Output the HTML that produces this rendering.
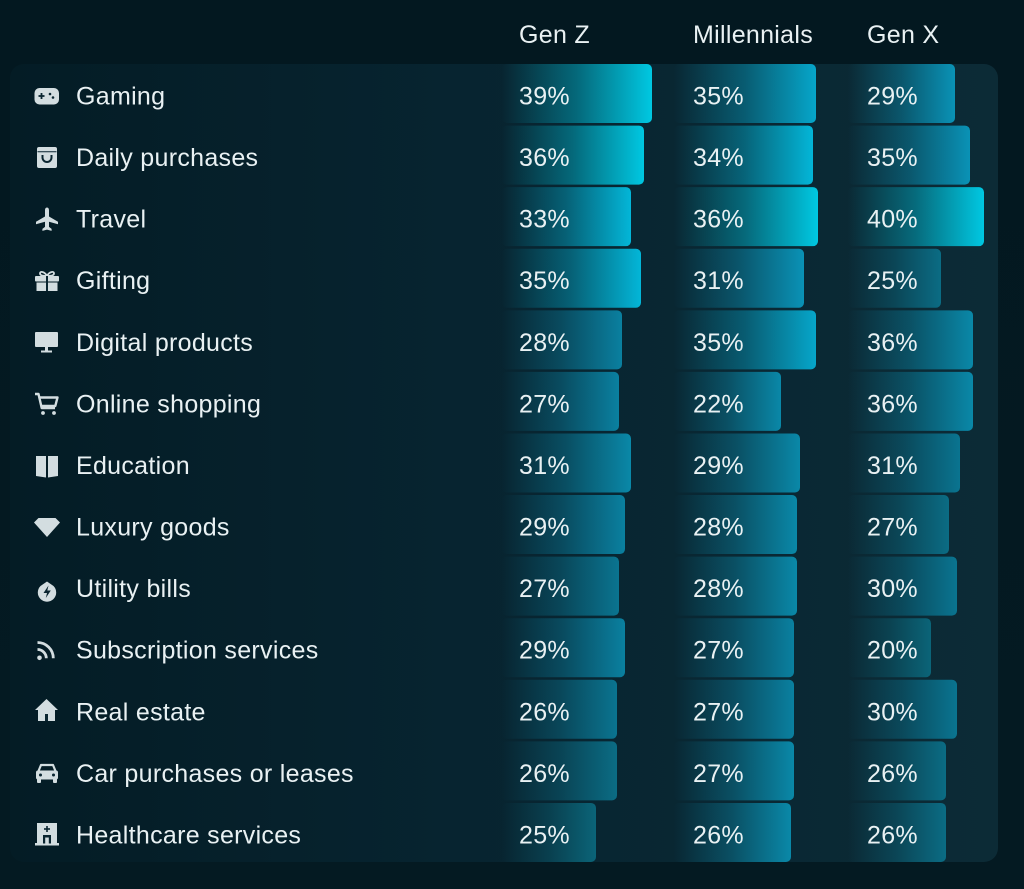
<!DOCTYPE html>
<html><head><meta charset="utf-8"><style>
html,body{margin:0;padding:0;background:#041a22;width:1024px;height:889px;overflow:hidden}
svg{display:block}
text{font-family:"Liberation Sans",sans-serif;font-size:25px;fill:#e9f1f3;letter-spacing:0.3px}
</style></head><body>
<svg width="1024" height="889" viewBox="0 0 1024 889" xmlns="http://www.w3.org/2000/svg">
<defs>
<linearGradient id="bg" x1="0" y1="0" x2="0" y2="1"><stop offset="0" stop-color="#031820"/><stop offset="1" stop-color="#041a22"/></linearGradient>
<linearGradient id="pn" x1="0" y1="0" x2="1" y2="0"><stop offset="0" stop-color="#041c25"/><stop offset="0.45" stop-color="#072430"/><stop offset="1" stop-color="#0c2b36"/></linearGradient>
<linearGradient id="c1" x1="0" x2="1" y1="0" y2="0"><stop offset="0" stop-color="#00c6e0" stop-opacity="0"/><stop offset="0.5" stop-color="#00c6e0" stop-opacity="0.42"/><stop offset="1" stop-color="#00c8e2"/></linearGradient>
<linearGradient id="c2" x1="0" x2="1" y1="0" y2="0"><stop offset="0" stop-color="#03b4d6" stop-opacity="0"/><stop offset="0.5" stop-color="#03b4d6" stop-opacity="0.42"/><stop offset="1" stop-color="#03b6d8"/></linearGradient>
<linearGradient id="c3" x1="0" x2="1" y1="0" y2="0"><stop offset="0" stop-color="#06a4c8" stop-opacity="0"/><stop offset="0.5" stop-color="#06a4c8" stop-opacity="0.42"/><stop offset="1" stop-color="#06a6ca"/></linearGradient>
<linearGradient id="c4" x1="0" x2="1" y1="0" y2="0"><stop offset="0" stop-color="#0a94b8" stop-opacity="0"/><stop offset="0.5" stop-color="#0a94b8" stop-opacity="0.42"/><stop offset="1" stop-color="#0a92b6"/></linearGradient>
<linearGradient id="c5" x1="0" x2="1" y1="0" y2="0"><stop offset="0" stop-color="#0a88a8" stop-opacity="0"/><stop offset="0.5" stop-color="#0a88a8" stop-opacity="0.42"/><stop offset="1" stop-color="#0a88a8"/></linearGradient>
<linearGradient id="c6" x1="0" x2="1" y1="0" y2="0"><stop offset="0" stop-color="#0a80a0" stop-opacity="0"/><stop offset="0.5" stop-color="#0a80a0" stop-opacity="0.42"/><stop offset="1" stop-color="#0a80a0"/></linearGradient>
<linearGradient id="c7" x1="0" x2="1" y1="0" y2="0"><stop offset="0" stop-color="#0a7490" stop-opacity="0"/><stop offset="0.5" stop-color="#0a7490" stop-opacity="0.42"/><stop offset="1" stop-color="#0a7490"/></linearGradient>
<linearGradient id="c8" x1="0" x2="1" y1="0" y2="0"><stop offset="0" stop-color="#0b6c84" stop-opacity="0"/><stop offset="0.5" stop-color="#0b6c84" stop-opacity="0.42"/><stop offset="1" stop-color="#0b6c84"/></linearGradient>
<linearGradient id="c9" x1="0" x2="1" y1="0" y2="0"><stop offset="0" stop-color="#0b6478" stop-opacity="0"/><stop offset="0.5" stop-color="#0b6478" stop-opacity="0.42"/><stop offset="1" stop-color="#0b6478"/></linearGradient>
</defs>
<rect width="1024" height="889" fill="url(#bg)"/>
<rect x="10" y="64" width="988" height="798" rx="14" fill="url(#pn)"/>

<!-- headers -->
<text x="519" y="43">Gen Z</text>
<text x="693" y="43">Millennials</text>
<text x="867" y="43">Gen X</text>

<!-- Gen Z bars -->
<g>
<rect x="502" y="64" width="150" height="59" rx="5" fill="url(#c1)"/>
<rect x="502" y="125.58" width="142" height="59" rx="5" fill="url(#c1)"/>
<rect x="502" y="187.16" width="129" height="59" rx="5" fill="url(#c2)"/>
<rect x="502" y="248.74" width="139" height="59" rx="5" fill="url(#c2)"/>
<rect x="502" y="310.32" width="120" height="59" rx="5" fill="url(#c6)"/>
<rect x="502" y="371.9" width="117" height="59" rx="5" fill="url(#c6)"/>
<rect x="502" y="433.48" width="129" height="59" rx="5" fill="url(#c5)"/>
<rect x="502" y="495.06" width="123" height="59" rx="5" fill="url(#c6)"/>
<rect x="502" y="556.64" width="117" height="59" rx="5" fill="url(#c7)"/>
<rect x="502" y="618.22" width="123" height="59" rx="5" fill="url(#c6)"/>
<rect x="502" y="679.8" width="115" height="59" rx="5" fill="url(#c7)"/>
<rect x="502" y="741.38" width="115" height="59" rx="5" fill="url(#c8)"/>
<rect x="502" y="802.96" width="94" height="59" rx="5" fill="url(#c9)"/>
</g>
<!-- Millennials bars -->
<g>
<rect x="674" y="64" width="142" height="59" rx="5" fill="url(#c3)"/>
<rect x="674" y="125.58" width="139" height="59" rx="5" fill="url(#c2)"/>
<rect x="674" y="187.16" width="144" height="59" rx="5" fill="url(#c1)"/>
<rect x="674" y="248.74" width="130" height="59" rx="5" fill="url(#c4)"/>
<rect x="674" y="310.32" width="142" height="59" rx="5" fill="url(#c3)"/>
<rect x="674" y="371.9" width="107" height="59" rx="5" fill="url(#c5)"/>
<rect x="674" y="433.48" width="126" height="59" rx="5" fill="url(#c5)"/>
<rect x="674" y="495.06" width="123" height="59" rx="5" fill="url(#c5)"/>
<rect x="674" y="556.64" width="123" height="59" rx="5" fill="url(#c5)"/>
<rect x="674" y="618.22" width="120" height="59" rx="5" fill="url(#c6)"/>
<rect x="674" y="679.8" width="120" height="59" rx="5" fill="url(#c6)"/>
<rect x="674" y="741.38" width="120" height="59" rx="5" fill="url(#c5)"/>
<rect x="674" y="802.96" width="117" height="59" rx="5" fill="url(#c5)"/>
</g>
<!-- Gen X bars -->
<g>
<rect x="848" y="64" width="107" height="59" rx="5" fill="url(#c4)"/>
<rect x="848" y="125.58" width="122" height="59" rx="5" fill="url(#c4)"/>
<rect x="848" y="187.16" width="136" height="59" rx="5" fill="url(#c1)"/>
<rect x="848" y="248.74" width="93" height="59" rx="5" fill="url(#c8)"/>
<rect x="848" y="310.32" width="125" height="59" rx="5" fill="url(#c5)"/>
<rect x="848" y="371.9" width="125" height="59" rx="5" fill="url(#c5)"/>
<rect x="848" y="433.48" width="112" height="59" rx="5" fill="url(#c7)"/>
<rect x="848" y="495.06" width="101" height="59" rx="5" fill="url(#c8)"/>
<rect x="848" y="556.64" width="109" height="59" rx="5" fill="url(#c7)"/>
<rect x="848" y="618.22" width="83" height="59" rx="5" fill="url(#c9)"/>
<rect x="848" y="679.8" width="109" height="59" rx="5" fill="url(#c7)"/>
<rect x="848" y="741.38" width="98" height="59" rx="5" fill="url(#c8)"/>
<rect x="848" y="802.96" width="98" height="59" rx="5" fill="url(#c8)"/>
</g>

<!-- category labels -->
<text x="76" y="104.5">Gaming</text>
<text x="76" y="166">Daily purchases</text>
<text x="76" y="227.6">Travel</text>
<text x="76" y="289.2">Gifting</text>
<text x="76" y="350.8">Digital products</text>
<text x="76" y="412.4">Online shopping</text>
<text x="76" y="474">Education</text>
<text x="76" y="535.6">Luxury goods</text>
<text x="76" y="597.1">Utility bills</text>
<text x="76" y="658.7">Subscription services</text>
<text x="76" y="720.3">Real estate</text>
<text x="76" y="781.9">Car purchases or leases</text>
<text x="76" y="843.5">Healthcare services</text>

<!-- values -->
<g>
<text x="519" y="104.5">39%</text><text x="693" y="104.5">35%</text><text x="867" y="104.5">29%</text>
<text x="519" y="166">36%</text><text x="693" y="166">34%</text><text x="867" y="166">35%</text>
<text x="519" y="227.6">33%</text><text x="693" y="227.6">36%</text><text x="867" y="227.6">40%</text>
<text x="519" y="289.2">35%</text><text x="693" y="289.2">31%</text><text x="867" y="289.2">25%</text>
<text x="519" y="350.8">28%</text><text x="693" y="350.8">35%</text><text x="867" y="350.8">36%</text>
<text x="519" y="412.4">27%</text><text x="693" y="412.4">22%</text><text x="867" y="412.4">36%</text>
<text x="519" y="474">31%</text><text x="693" y="474">29%</text><text x="867" y="474">31%</text>
<text x="519" y="535.6">29%</text><text x="693" y="535.6">28%</text><text x="867" y="535.6">27%</text>
<text x="519" y="597.1">27%</text><text x="693" y="597.1">28%</text><text x="867" y="597.1">30%</text>
<text x="519" y="658.7">29%</text><text x="693" y="658.7">27%</text><text x="867" y="658.7">20%</text>
<text x="519" y="720.3">26%</text><text x="693" y="720.3">27%</text><text x="867" y="720.3">30%</text>
<text x="519" y="781.9">26%</text><text x="693" y="781.9">27%</text><text x="867" y="781.9">26%</text>
<text x="519" y="843.5">25%</text><text x="693" y="843.5">26%</text><text x="867" y="843.5">26%</text>
</g>

<!-- icons -->
<g fill="#d3dde0">
<!-- gaming -->
<rect x="34.5" y="88" width="24.5" height="16.5" rx="5"/>
<g stroke="#0a2530" stroke-width="1.8"><line x1="38.5" y1="96" x2="44.5" y2="96"/><line x1="41.5" y1="93" x2="41.5" y2="99"/></g>
<circle cx="50" cy="94" r="1.3" fill="#0a2530"/><circle cx="53" cy="97.5" r="1.3" fill="#0a2530"/>
<!-- bag -->
<rect x="37" y="147" width="20" height="21" rx="2"/>
<line x1="37.5" y1="151.8" x2="56.5" y2="151.8" stroke="#0a2530" stroke-width="1"/>
<path d="M42.5 155 v2.5 a4.5 4.5 0 0 0 9 0 v-2.5" fill="none" stroke="#0a2530" stroke-width="2"/>
<!-- plane -->
<path d="M47 207.5 c1.4 0 2 1.4 2 3 v6 l9 5.2 v2.6 l-9 -2.6 v5.2 l2.6 2 v2 l-4.6 -1.3 l-4.6 1.3 v-2 l2.6 -2 v-5.2 l-9 2.6 v-2.6 l9 -5.2 v-6 c0 -1.6 .6 -3 2 -3 z"/>
<!-- gift -->
<rect x="35" y="276" width="24" height="5.5" rx="1"/>
<rect x="36.5" y="282.5" width="21" height="8.5"/>
<path d="M47 276 c-2 -4 -7 -5.5 -7 -2.5 c0 2 3 2.5 7 2.5 z M47 276 c2 -4 7 -5.5 7 -2.5 c0 2 -3 2.5 -7 2.5 z" fill="none" stroke="#d3dde0" stroke-width="1.8"/>
<rect x="46" y="276" width="2" height="15" fill="#0a2530"/>
<!-- monitor -->
<rect x="35" y="332" width="23" height="15" rx="1"/>
<rect x="45" y="347" width="3" height="3.5"/>
<rect x="41" y="350.5" width="11" height="2"/>
<!-- cart -->
<path d="M35 394 h3.5 l3.2 14 h13.3" fill="none" stroke="#d3dde0" stroke-width="2.4" stroke-linejoin="round"/>
<path d="M40 397.5 h17.5 l-2.2 8.5 h-13.4" fill="none" stroke="#d3dde0" stroke-width="2.4" stroke-linejoin="round"/>
<circle cx="43" cy="413" r="1.9"/><circle cx="54" cy="413" r="1.9"/>
<!-- book -->
<path d="M36 456 h10 v21.5 l-10 -1.5 z"/>
<path d="M48 456 h10 v20 l-10 1.5 z"/>
<!-- diamond -->
<polygon points="34,522.5 38.5,518 55.5,518 60,522.5 47,537"/>
<!-- utility -->
<path d="M47 581.5 L53.5 586 A9.2 9.2 0 1 1 40.5 586 Z"/>
<polygon points="48.5,585.5 43.5,593 47,593 45.8,598 50.8,590.5 47.3,590.5" fill="#0a2530"/>
<!-- rss -->
<circle cx="39.5" cy="657.8" r="2.3"/>
<path d="M37.5 649.5 a8.8 8.8 0 0 1 8.8 8.8 M37.5 642.5 a15.8 15.8 0 0 1 15.8 15.8" fill="none" stroke="#d3dde0" stroke-width="2.8"/>
<!-- house -->
<polygon points="46.5,699 35,710 38,710 38,721 55,721 55,710 58,710"/>
<rect x="45" y="714" width="3" height="7" fill="#0a2530"/>
<!-- car -->
<path d="M38.5 771 l2.5 -6 h12 l2.5 6" fill="none" stroke="#d3dde0" stroke-width="2.2" stroke-linejoin="round"/>
<rect x="36" y="770.5" width="22" height="9" rx="2"/>
<rect x="37" y="778" width="4" height="5" rx="1"/><rect x="53" y="778" width="4" height="5" rx="1"/>
<circle cx="40.5" cy="775" r="1.5" fill="#0a2530"/><circle cx="53.5" cy="775" r="1.5" fill="#0a2530"/>
<!-- hospital -->
<rect x="37" y="823" width="20" height="21"/>
<rect x="35" y="843" width="24" height="2.5"/>
<g stroke="#0a2530" stroke-width="1.6"><line x1="47" y1="826" x2="47" y2="832"/><line x1="44" y1="829" x2="50" y2="829"/></g>
<rect x="43" y="835" width="8" height="8.5" fill="#0a2530"/>
<rect x="45.2" y="837.5" width="3.6" height="6"/>
</g>
</svg>
</body></html>
